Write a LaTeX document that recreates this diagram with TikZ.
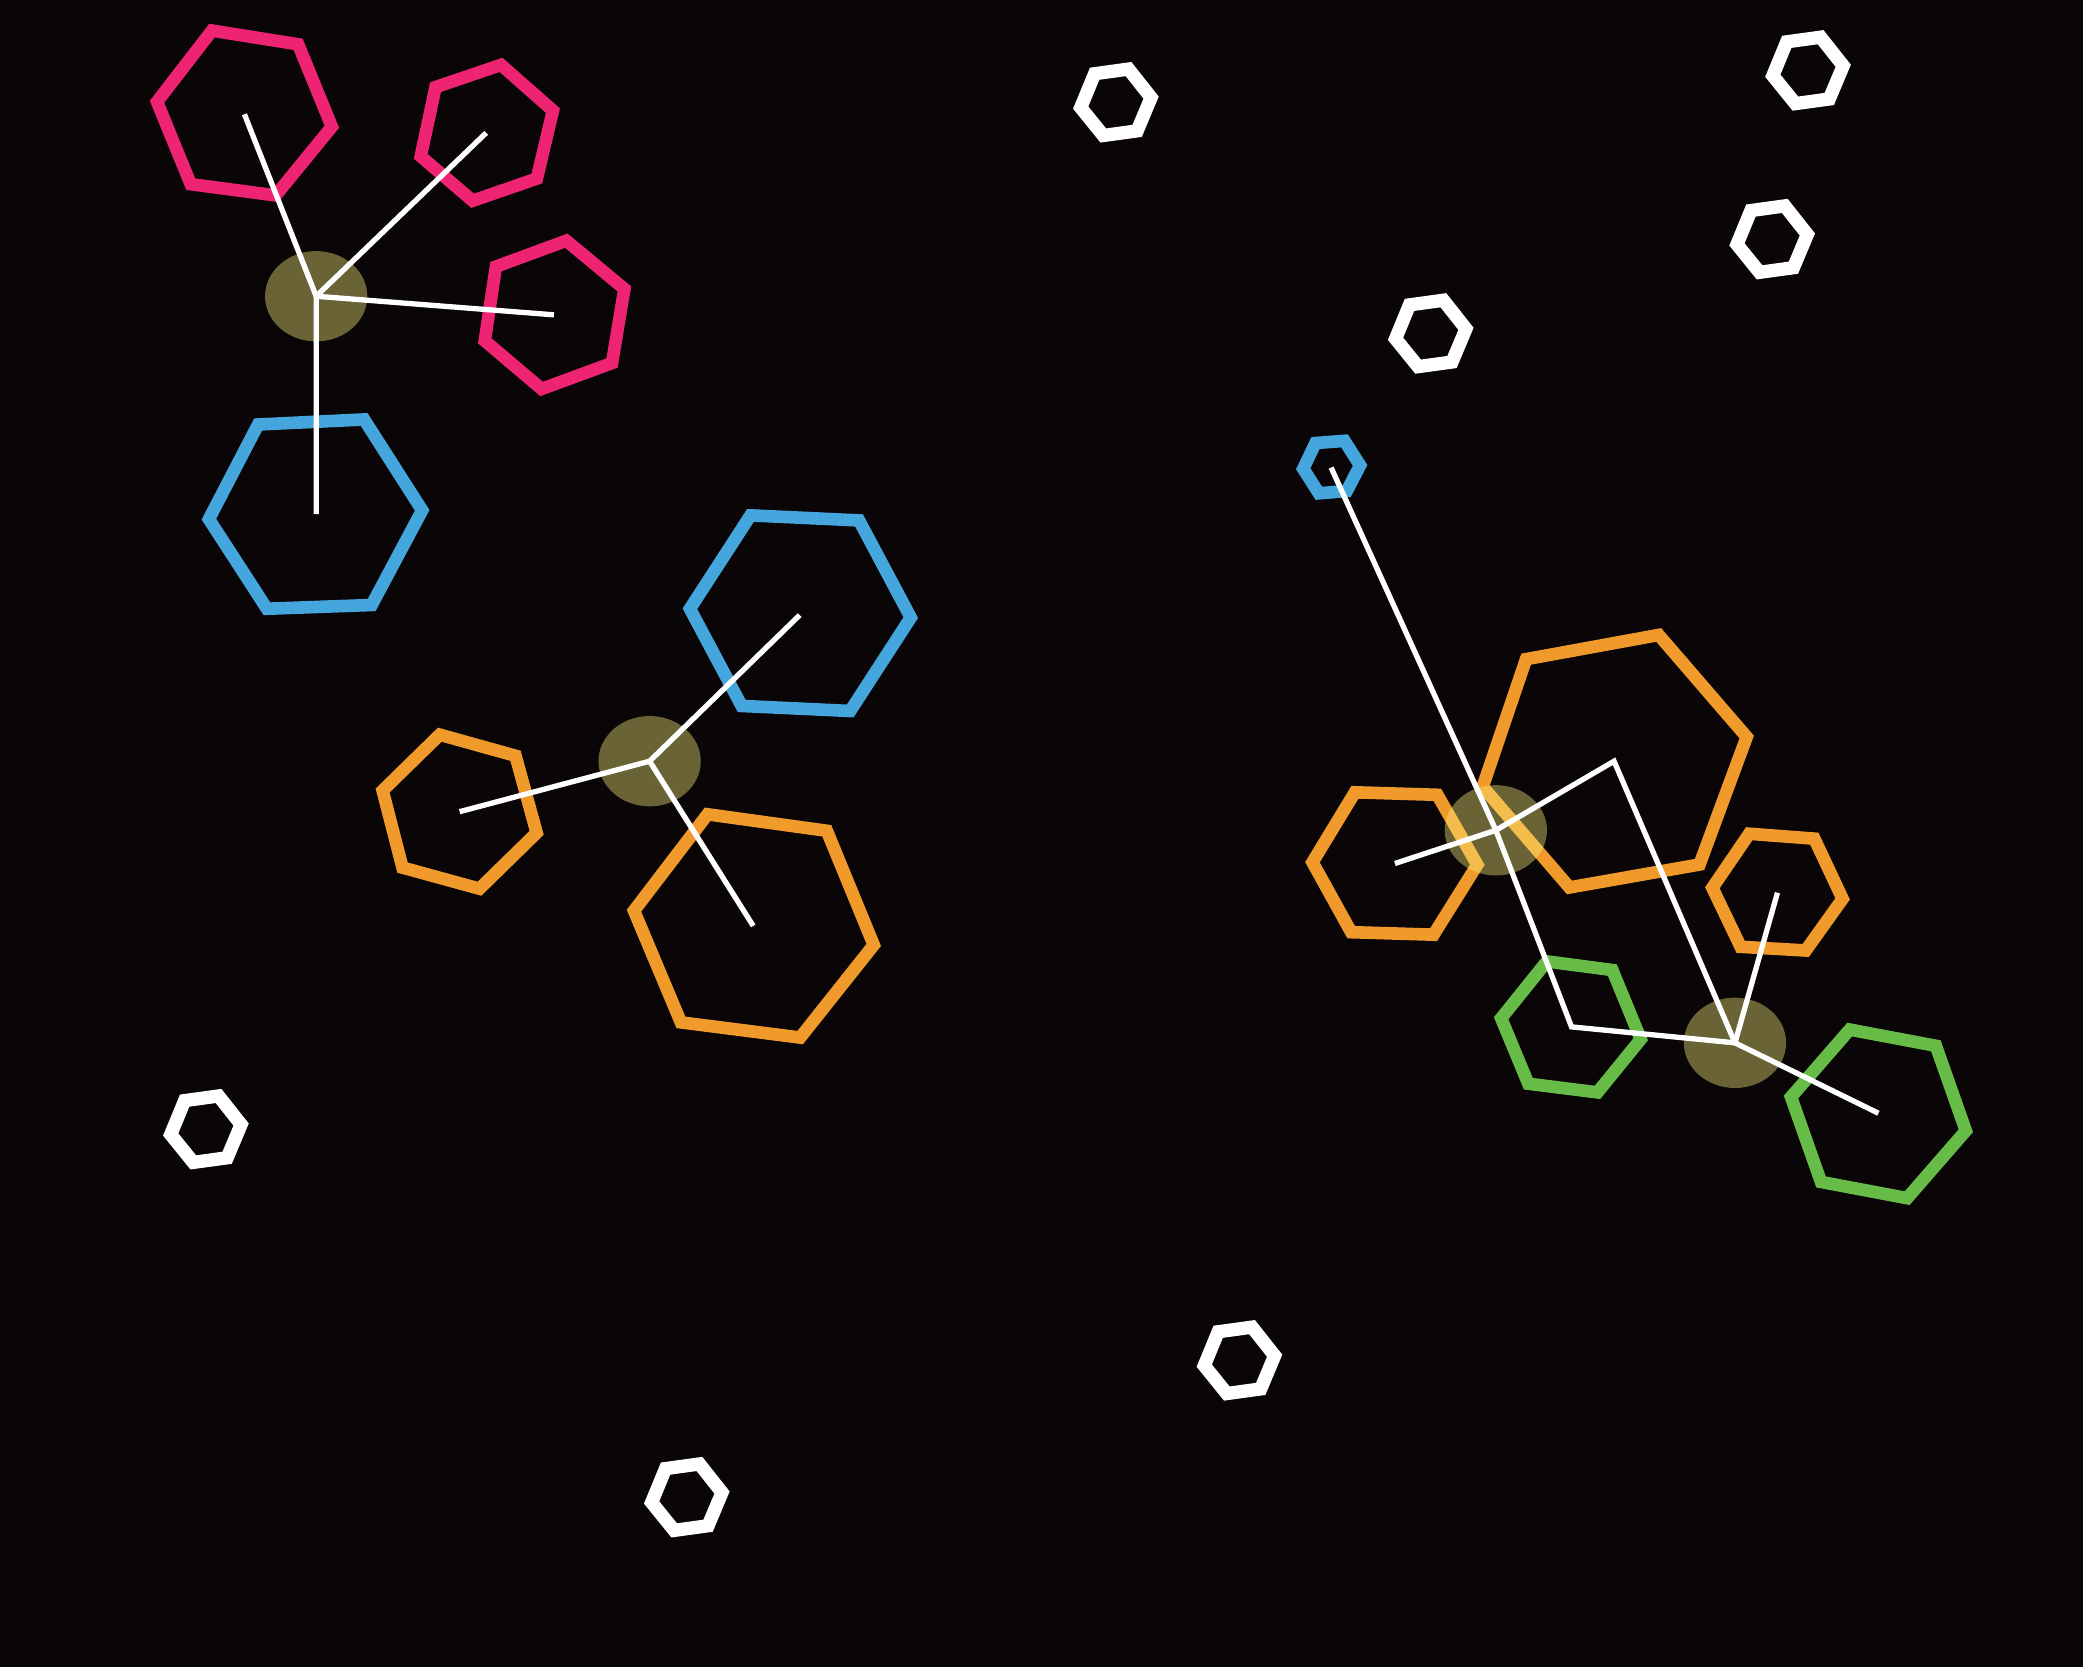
\documentclass[tikz,border=0pt]{standalone}
\usepackage{tikz}

\definecolor{bgdark}{HTML}{0A0507}
\definecolor{ringpink}{HTML}{EE2472}
\definecolor{ringblue}{HTML}{44A6DC}
\definecolor{ringorange}{HTML}{F09A2C}
\definecolor{ringgreen}{HTML}{66BC47}
\definecolor{blobyellow}{HTML}{FAF07A}

\begin{document}
\begin{tikzpicture}[
  x=1pt, y=-1pt,
  ring/.style={line width=9.5pt, line join=miter},
  pinkring/.style={ring, draw=ringpink},
  bluering/.style={ring, draw=ringblue},
  orangering/.style={ring, draw=ringorange},
  greenring/.style={ring, draw=ringgreen},
  whitering/.style={ring, draw=white, line width=10pt},
  blob/.style={fill=blobyellow, fill opacity=0.4},
  bond/.style={draw=white, line width=4pt, line join=miter},
]
% ---- background ----
\fill[bgdark] (0,0) rectangle (1568,1255);
\useasboundingbox (0,0) rectangle (1568,1255);
% ---- centres ----
\coordinate (m1) at (238,223);
\coordinate (m2) at (489,573);
\coordinate (m3) at (1126,625);
\coordinate (m4) at (1306,785);
\coordinate (pk1) at (184,86);
\coordinate (pk2) at (366,100);
\coordinate (pk3) at (417,237);
\coordinate (bl1) at (238,387);
\coordinate (bl2) at (602,463);
\coordinate (bl3) at (1002,352);
\coordinate (or1) at (346,611);
\coordinate (or2) at (567,697);
\coordinate (or3) at (1050,650);
\coordinate (or4) at (1215,573);
\coordinate (or5) at (1338,672);
\coordinate (gr1) at (1183,773);
\coordinate (gr2) at (1414,838);
\coordinate (wh1) at (840,77);
\coordinate (wh2) at (1361,53);
\coordinate (wh3) at (1334,180);
\coordinate (wh4) at (1077,251);
\coordinate (wh5) at (155,850);
\coordinate (wh6) at (933,1024);
\coordinate (wh7) at (517,1127);
% ---- rings ----
\draw[pinkring, scale around={0.94:(pk1)}] (158,19) -- (227,30) -- (254,96) -- (209,151) -- (141,142) -- (114,76) -- cycle;
\draw[pinkring, scale around={0.93:(pk2)}] (325,63) -- (378,45) -- (420,82) -- (407,137) -- (355,155) -- (313,119) -- cycle;
\draw[pinkring, scale around={0.93:(pk3)}] (370,198) -- (427,177) -- (474,216) -- (464,276) -- (407,297) -- (361,258) -- cycle;
\draw[bluering, scale around={0.95:(bl1)}] (192,316) -- (276,312) -- (322,384) -- (282,459) -- (199,462) -- (153,391) -- cycle;
\draw[bluering, scale around={0.95:(bl2)}] (563,384) -- (649,388) -- (690,465) -- (642,539) -- (556,535) -- (515,458) -- cycle;
\draw[bluering, scale around={0.84:(bl3)}] (988,330) -- (1014,328) -- (1028,350) -- (1016,373) -- (991,375) -- (977,353) -- cycle;
\draw[orangering, scale around={0.935:(or1)}] (330,549) -- (391,566) -- (408,628) -- (362,673) -- (300,656) -- (284,594) -- cycle;
\draw[orangering, scale around={0.955:(or2)}] (531,609) -- (625,622) -- (662,712) -- (604,785) -- (510,773) -- (473,685) -- cycle;
\draw[orangering, scale around={0.94:(or3)}] (1018,593) -- (1084,595) -- (1116,651) -- (1081,707) -- (1015,705) -- (984,649) -- cycle;
\draw[orangering, scale around={0.96:(or4)}] (1146,493) -- (1250,474) -- (1319,554) -- (1282,654) -- (1180,672) -- (1112,593) -- cycle;
\draw[orangering, scale around={0.925:(or5)}] (1315,624) -- (1368,628) -- (1391,677) -- (1361,719) -- (1308,716) -- (1285,668) -- cycle;
\draw[greenring, scale around={0.93:(gr1)}] (1163,720) -- (1216,727) -- (1239,783) -- (1204,826) -- (1148,819) -- (1126,766) -- cycle;
\draw[greenring, scale around={0.94:(gr2)}] (1391,771) -- (1460,784) -- (1484,852) -- (1437,906) -- (1368,893) -- (1344,825) -- cycle;
\foreach \w in {wh1,wh2,wh3,wh4,wh5,wh6,wh7}
  \draw[whitering, shift={(\w)}] (-16,-21.5) -- (9.5,-25) -- (26.5,-3.5) -- (16,21.5) -- (-9.5,25) -- (-26.5,4) -- cycle;
% ---- blobs ----
\foreach \m in {m1,m2,m3,m4}
  \fill[blob] (\m) ellipse [x radius=38.5pt, y radius=34pt];
% ---- bonds ----
\draw[bond] (pk1) -- (m1) -- (pk2);
\draw[bond] (pk3) -- (m1) -- (bl1);
\draw[bond] (or1) -- (m2) -- (bl2);
\draw[bond] (m2) -- (or2);
\draw[bond] (bl3) -- (m3) -- (gr1) -- (m4);
\draw[bond] (or3) -- (m3) -- (or4) -- (m4);
\draw[bond] (or5) -- (m4) -- (gr2);
\end{tikzpicture}
\end{document}
